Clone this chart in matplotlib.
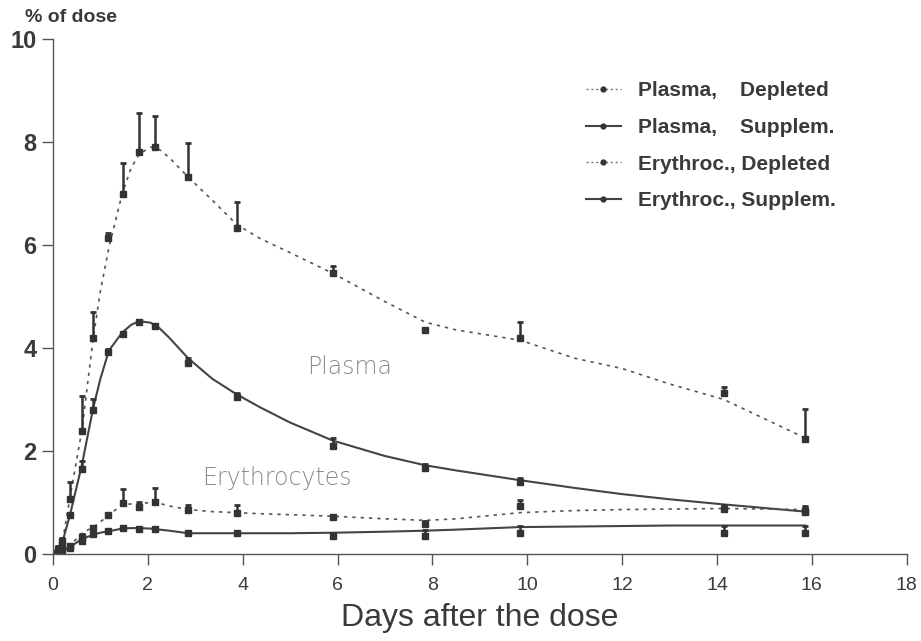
import numpy as np
import matplotlib
matplotlib.use("Agg")
import matplotlib.pyplot as plt

# sampling times (days) and measured values, % of dose
days = [0.1, 0.2, 0.36, 0.61, 0.85, 1.17, 1.47, 1.82, 2.15, 2.85, 3.87, 5.9, 7.85, 9.85, 14.14, 15.86]

plasma_dep = [0.1, 0.25, 1.07, 2.38, 4.2, 6.13, 7.0, 7.81, 7.91, 7.32, 6.33, 5.45, 4.35, 4.2, 3.13, 2.23]
plasma_dep_sd = [0.05, 0.05, 0.33, 0.68, 0.5, 0.1, 0.6, 0.76, 0.6, 0.67, 0.51, 0.15, 0.0, 0.3, 0.12, 0.58]

plasma_sup = [0.05, 0.2, 0.75, 1.65, 2.8, 3.93, 4.28, 4.5, 4.43, 3.7, 3.05, 2.1, 1.66, 1.4, np.nan, 0.82]
plasma_sup_sd = [0.02, 0.05, 0.05, 0.15, 0.2, 0.05, 0.03, 0.05, 0.03, 0.1, 0.07, 0.15, 0.08, 0.07, 0.0, 0.08]

ery_dep = [0.03, 0.1, 0.15, 0.33, 0.5, 0.75, 0.98, 0.9, 1.0, 0.85, 0.8, 0.72, 0.58, 0.92, 0.88, 0.84]
ery_dep_sd = [0.0, 0.03, 0.03, 0.05, 0.05, 0.03, 0.28, 0.1, 0.27, 0.1, 0.15, 0.03, 0.05, 0.13, 0.06, 0.08]

ery_sup = [0.02, 0.05, 0.12, 0.25, 0.38, 0.45, 0.5, 0.48, 0.48, 0.4, 0.4, 0.35, 0.35, 0.4, 0.4, 0.4]
ery_sup_sd = [0.0, 0.02, 0.03, 0.05, 0.05, 0.02, 0.02, 0.04, 0.03, 0.02, 0.04, 0.06, 0.12, 0.15, 0.15, 0.15]

# fitted curves
curve_days = [0, 0.2, 0.36, 0.61, 0.85, 1.0, 1.18, 1.46, 1.65, 1.82, 2.06, 2.25, 2.45, 2.85, 3.36, 3.87,
              4.36, 5.0, 5.9, 7.0, 7.85, 8.5, 9.85, 11.0, 12.0, 13.0, 14.14, 15.86]
curve_plasma_dep = [0, 0.23, 1.1, 2.4, 4.2, 5.1, 5.95, 7.0, 7.5, 7.77, 7.9, 7.85, 7.7, 7.32, 6.87, 6.4,
                    6.13, 5.85, 5.45, 4.9, 4.5, 4.35, 4.15, 3.8, 3.6, 3.3, 3.0, 2.25]
curve_plasma_sup = [0, 0.23, 0.76, 1.73, 2.84, 3.4, 3.95, 4.3, 4.45, 4.52, 4.49, 4.38, 4.2, 3.8, 3.4, 3.1,
                    2.85, 2.55, 2.2, 1.9, 1.72, 1.62, 1.43, 1.28, 1.16, 1.06, 0.96, 0.82]
curve_ery_dep = [0, 0.08, 0.16, 0.4, 0.52, 0.62, 0.76, 0.95, 0.97, 0.97, 1.0, 0.98, 0.93, 0.86, 0.82, 0.8,
                 0.78, 0.76, 0.73, 0.68, 0.65, 0.68, 0.8, 0.84, 0.86, 0.87, 0.88, 0.86]
curve_ery_sup = [0, 0.05, 0.13, 0.29, 0.37, 0.41, 0.44, 0.49, 0.5, 0.5, 0.49, 0.47, 0.45, 0.4, 0.4, 0.4,
                 0.4, 0.4, 0.41, 0.43, 0.45, 0.47, 0.52, 0.53, 0.54, 0.55, 0.55, 0.55]

x_ticks = [0, 2, 4, 6, 8, 10, 12, 14, 16, 18]
y_ticks = [0, 2, 4, 6, 8, 10]

plt.rcParams['font.family'] = ['Liberation Sans', 'DejaVu Sans']

ink = '#3a3a3a'
fig = plt.figure(figsize=(9.21, 6.41), dpi=100)
ax = fig.add_axes([0.0575, 0.136, 0.927, 0.803])

# curves
ax.plot(curve_days, curve_plasma_dep, color='#555555', lw=1.2, ls=(0, (2, 3)))
ax.plot(curve_days, curve_plasma_sup, color='#444444', lw=1.5, ls='-')
ax.plot(curve_days, curve_ery_dep, color='#555555', lw=1.2, ls=(0, (2, 3)))
ax.plot(curve_days, curve_ery_sup, color='#444444', lw=1.5, ls='-')

# data points with error bars (upper side only)
for vals, sd in [(plasma_dep, plasma_dep_sd), (plasma_sup, plasma_sup_sd),
                 (ery_dep, ery_dep_sd), (ery_sup, ery_sup_sd)]:
    v = np.array(vals)
    s = np.array(sd)
    ax.errorbar(days, v, yerr=[np.zeros_like(s), s], fmt='s', ms=4,
                color='#333333', ecolor='#333333', elinewidth=1.8, capsize=2.5,
                capthick=2, lw=0)

# legend drawn with handles matching the line styles
h1, = ax.plot([], [], color='#777777', lw=1, ls=(0, (1.5, 2)), marker='o', ms=3.5,
              mfc='#333333', mec='#333333')
h2, = ax.plot([], [], color='#444444', lw=1.5, ls='-', marker='o', ms=3.5,
              mfc='#333333', mec='#333333')
h3, = ax.plot([], [], color='#777777', lw=1, ls=(0, (1.5, 2)), marker='o', ms=3.5,
              mfc='#333333', mec='#333333')
h4, = ax.plot([], [], color='#444444', lw=1.5, ls='-', marker='o', ms=3.5,
              mfc='#333333', mec='#333333')
leg = ax.legend([h1, h2, h3, h4],
                ['Plasma,    Depleted', 'Plasma,    Supplem.',
                 'Erythroc., Depleted', 'Erythroc., Supplem.'],
                loc='upper left', bbox_to_anchor=(0.624, 0.918), frameon=False,
                borderaxespad=0, borderpad=0,
                fontsize=15, handlelength=1.7, labelspacing=0.85, handletextpad=0.8)
for t in leg.get_texts():
    t.set_color(ink)
    t.set_fontweight('bold')

ax.text(6.25, 3.62, 'Plasma', fontsize=17, color='#8a8a8a', ha='center', va='center',
        family='DejaVu Sans', fontweight='light')
ax.text(4.72, 1.48, 'Erythrocytes', fontsize=17, color='#8a8a8a', ha='center', va='center',
        family='DejaVu Sans', fontweight='light')

fig.text(0.027, 0.972, '% of dose', fontsize=14, fontweight='bold', color=ink,
         ha='left', va='center')

ax.set_xlim(0, 18)
ax.set_ylim(0, 10)
ax.set_xticks(x_ticks)
ax.set_yticks(y_ticks)
ax.set_xlabel('Days after the dose', fontsize=23, color=ink, labelpad=6)
ax.tick_params(axis='x', direction='out', length=8, width=1, colors='#555555',
               labelsize=14, labelcolor=ink, pad=9)
ax.tick_params(axis='y', direction='out', length=8, width=1, colors='#555555',
               labelsize=17, labelcolor=ink, pad=4)
for lab in ax.get_yticklabels():
    lab.set_fontweight('bold')
for side in ['top', 'right']:
    ax.spines[side].set_visible(False)
for side in ['left', 'bottom']:
    ax.spines[side].set_color('#555555')
    ax.spines[side].set_linewidth(1)

fig.savefig('out.png', dpi=100)
